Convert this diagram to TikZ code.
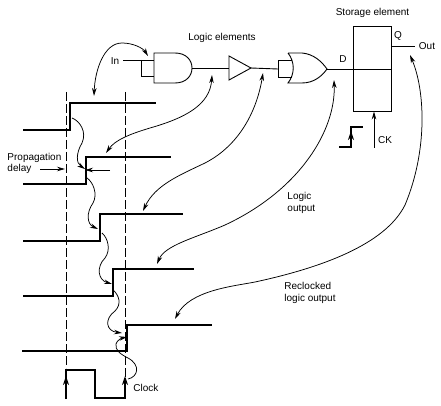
\documentclass[tikz,border=0pt]{standalone}
\usepackage{fontspec}
\setmainfont{Liberation Sans}
\usetikzlibrary{arrows.meta}
\newcommand{\wave}[5]{
  \draw [wave] (#1,#2)--(#3,#2)--(#3,#4)--(#5,#4);
}
\begin{document}
\begin{tikzpicture}[x=1pt,y=-1pt,line width=.9pt,>={Stealth[length=8pt,width=4.5pt]},
    wave/.style={line width=1.9pt,miter limit=10},
    guide/.style={dashed,dash pattern=on 9pt off 3pt,line width=.7pt},
    note/.style={line width=.75pt},
    edge/.style={line width=1.4pt,-{Stealth[length=9pt,width=6pt]}},
    lbl/.style={inner sep=0pt,align=left,font=\fontsize{10}{12}\selectfont}]
  \useasboundingbox (0,0) rectangle (441,406);
  % gates
  \coordinate (Andout) at (192,68);
  \coordinate (Bufin) at (229,68);
  \coordinate (Bufout) at (251,68);
  \coordinate (Orin) at (278,69);
  \coordinate (Orout) at (327,69);
  \coordinate (Dl) at (353,69);
  \coordinate (Dr) at (391,69);
  \coordinate (Inl) at (123,60);
  \coordinate (Outr) at (415,46);
  \coordinate (Qr) at (391,46);
  \draw (154,53)--(175,53) .. controls (186,53) and (192,60) .. (Andout) .. controls (192,76) and (186,83) .. (175,83)--(154,83)--cycle;
  \draw (Inl)--(154,60);
  \draw (141,60)--(141,76)--(154,76);
  \draw (Andout)--(Bufin);
  \draw (229,56)--(Bufout)--(229,80)--cycle;
  \draw (Bufout)--(Orin);
  \draw (288,53)--(302,53) .. controls (314,54) and (322,62) .. (Orout) .. controls (322,76) and (314,83) .. (302,83)--(288,83) .. controls (295,74) and (295,62) .. (288,53);
  \draw (292,60)--(278,60)--(278,77)--(292,77);
  \draw (Orout)--(Dl);
  \node [draw,line width=.9pt,minimum width=38pt,minimum height=85pt,inner sep=0pt] (Store) at (372,68.5) {};
  \draw (Dl)--(Dr);
  \draw (Qr)--(Outr);
  % labels
  \node [lbl] (Lstore) at (372.5,13) {Storage element};
  \node [lbl] (Llogic) at (222,38) {Logic elements};
  \node [lbl] (Lin) at (115,61) {In};
  \node [lbl] (Ld) at (343,59) {D};
  \node [lbl] (Lq) at (398,36) {Q};
  \node [lbl] (Lout) at (427,46) {Out};
  \node [lbl] (Lck) at (385,140) {CK};
  \node [lbl,anchor=west] (Lprop) at (7,158) {Propagation};
  \node [lbl,anchor=west] (Ldelay) at (7,169) {delay};
  \node [lbl,anchor=west] (Lclock) at (133,388) {Clock};
  \node [lbl,anchor=west] (Loutput) at (287,203) {Logic\\output};
  \node [lbl,anchor=west] (Lrec) at (284,293) {Reclocked\\logic output};
  % clock input
  \coordinate (Ckin) at (374,148);
  \draw [->] (Ckin)--(Store.south -| Ckin);
  \draw [wave] (339,147)--(351,147)--(351,127)--(363,127);
  \draw [edge] (351,146)--(351,131);
  % waveforms
  \draw [guide] (66,92)--(66,368);
  \draw [guide] (125,92)--(125,378);
  \wave{23}{130}{70}{103}{156}
  \wave{23}{184}{86}{157}{171}
  \wave{23}{241}{100}{214}{183}
  \wave{23}{296}{113}{269}{194}
  \wave{22}{351}{127}{325}{212}
  \draw [line width=1.5pt] (66,399)--(66,370)--(95,370)--(95,398)--(125,398)--(125,378);
  \draw [edge] (66,392)--(66,376);
  \draw [edge] (125,392)--(125,376);
  % delays
  \coordinate (Pl) at (40,169);
  \coordinate (Pla) at (65,169);
  \coordinate (Pr) at (110,170);
  \coordinate (Pra) at (85,170);
  \draw [->,note] (Pl)--(Pla);
  \draw [->,note] (Pr)--(Pra);
  % ripple
  \draw [->,note] (72,118) .. controls (80,121) and (87,132) .. (82,143) .. controls (76,153) and (76,163) .. (85,169);
  \draw [->,note] (87,178) .. controls (93,182) and (98,194) .. (93,203) .. controls (86,213) and (87,224) .. (98,229);
  \draw [->,note] (102,233) .. controls (108,238) and (111,250) .. (105,258) .. controls (96,267) and (98,280) .. (112,284);
  \draw [->,note] (113,290) .. controls (119,295) and (122,304) .. (115,311) .. controls (104,319) and (106,331) .. (122,333);
  \draw [->,note] (128,379) .. controls (138,377) and (141,365) .. (128,358) .. controls (120,354) and (115,350) .. (116,344) .. controls (117,340) and (122,338) .. (127,337);
  % long arrows
  \draw [<->,note] (94,96) .. controls (95,70) and (104,43) .. (122,43) .. controls (133,43) and (143,48) .. (148,56);
  \draw [<->,note] (212,75) .. controls (210,105) and (185,118) .. (150,128) .. controls (130,134) and (115,140) .. (106,153);
  \draw [<->,note] (263,73) .. controls (257,110) and (240,145) .. (205,163) .. controls (180,175) and (155,185) .. (143,211);
  \draw [<->,note] (334,80) .. controls (336,130) and (300,190) .. (225,225) .. controls (195,238) and (165,245) .. (157,264);
  \draw [<->,note] (410,55) .. controls (425,90) and (428,150) .. (405,205) .. controls (385,245) and (320,268) .. (255,282) .. controls (235,286) and (190,290) .. (175,319);
\end{tikzpicture}
\end{document}
